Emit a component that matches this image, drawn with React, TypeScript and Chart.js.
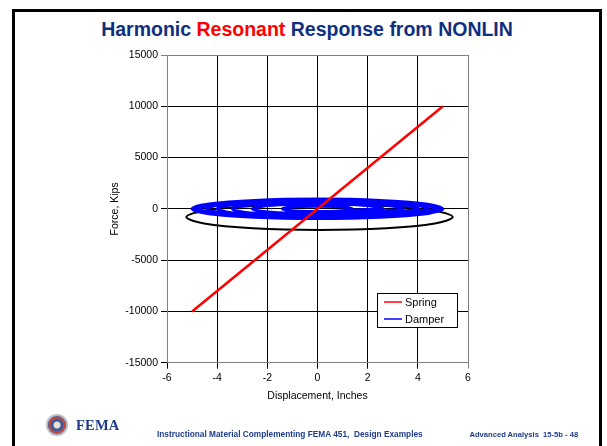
import React, { useEffect, useRef } from "react";
import { Chart, registerables } from "chart.js";

Chart.register(...registerables);

// ---------- data ----------
const titleParts = ["Harmonic ", "Resonant", " Response from NONLIN"];
const xTitle = "Displacement, Inches";
const yTitle = "Force, Kips";
const seriesLabels = ["Spring", "Damper"];
const footerLeft = "Instructional Material Complementing FEMA 451,  Design Examples";
const footerRight = "Advanced Analysis  15-5b - 48";
const logoText = "FEMA";

const xMin = -6;
const xMax = 6;
const xStep = 2;
const yMin = -15000;
const yMax = 15000;
const yStep = 5000;

// Spring force vs displacement
const springDisp = [-5, 5];
const springForce = [-10000, 10000];

// Damper force vs displacement (growing resonant loops)
const damperDisp = [
  1.4, 1.21, 0.7, 0, -0.7, -1.21, -1.4, -1.21, -0.7, 0, 0.7, 1.21,
  2.6, 2.25, 1.3, 0, -1.3, -2.25, -2.6, -2.25, -1.3, 0, 1.3, 2.25,
  3.4, 2.94, 1.7, 0, -1.7, -2.94, -3.4, -2.94, -1.7, 0, 1.7, 2.94,
  4.0, 3.46, 2.0, 0, -2.0, -3.46, -4.0, -3.46, -2.0, 0, 2.0, 3.46,
  4.4, 3.81, 2.2, 0, -2.2, -3.81, -4.4, -3.81, -2.2, 0, 2.2, 3.81,
  4.7, 4.07, 2.35, 0, -2.35, -4.07, -4.7, -4.07, -2.35, 0, 2.35, 4.07,
  4.9, 4.24, 2.45, 0, -2.45, -4.24, -4.9, -4.24, -2.45, 0, 2.45, 4.24,
  5.0, 4.33, 2.5, 0, -2.5, -4.33, -5.0, -4.33, -2.5, 0, 2.5, 4.33, 5.0,
];
const damperForce = [
  0, 130, 225, 260, 225, 130, 0, -130, -225, -260, -225, -130,
  0, 240, 416, 480, 416, 240, 0, -240, -416, -480, -416, -240,
  0, 320, 554, 640, 554, 320, 0, -320, -554, -640, -554, -320,
  0, 380, 658, 760, 658, 380, 0, -380, -658, -760, -658, -380,
  0, 420, 727, 840, 727, 420, 0, -420, -727, -840, -727, -420,
  0, 448, 775, 895, 775, 448, 0, -448, -775, -895, -775, -448,
  0, 465, 805, 930, 805, 465, 0, -465, -805, -930, -805, -465,
  0, 475, 823, 950, 823, 475, 0, -475, -823, -950, -823, -475, 0,
];

// Unlabelled black loop
const loopDisp = [0.08, -2.58, -4.52, -5.23, -4.52, -2.58, 0.08, 2.74, 4.68, 5.39, 4.68, 2.74, 0.08];
const loopForce = [450, 283, -175, -800, -1425, -1883, -2050, -1883, -1425, -800, -175, 283, 450];

// ---------- helpers ----------
const toPoints = (xs: number[], ys: number[]) => xs.map((x, i) => ({ x, y: ys[i] }));

const NAVY = "#10307F";
const FONT = "'Liberation Sans', Arial, sans-serif";

const boxLegend = {
  id: "boxLegend",
  afterDraw(chart: any) {
    const { ctx, chartArea } = chart;
    const w = 80;
    const h = 34;
    const x = Math.round(chartArea.right - 91);
    const y = Math.round(chartArea.bottom - 70);
    ctx.save();
    ctx.fillStyle = "#ffffff";
    ctx.fillRect(x, y, w, h);
    ctx.strokeStyle = "#000000";
    ctx.lineWidth = 1;
    ctx.strokeRect(x + 0.5, y + 0.5, w, h);
    const items = chart.data.datasets.filter((d: any) => !d.hideInLegend);
    items.forEach((d: any, i: number) => {
      const cy = y + 9 + i * 17;
      ctx.strokeStyle = d.borderColor;
      ctx.lineWidth = 1.5;
      ctx.beginPath();
      ctx.moveTo(x + 7, cy);
      ctx.lineTo(x + 25, cy);
      ctx.stroke();
      ctx.fillStyle = "#000";
      ctx.font = `11px ${FONT}`;
      ctx.textBaseline = "middle";
      ctx.textAlign = "left";
      ctx.fillText(d.label, x + 28, cy + 0.5);
    });
    ctx.restore();
  },
};

function FemaChart() {
  const ref = useRef<HTMLCanvasElement | null>(null);
  useEffect(() => {
    if (!ref.current) return;
    const chart = new Chart(ref.current, {
      type: "scatter",
      data: {
        datasets: [
          {
            label: seriesLabels[0],
            data: toPoints(springDisp, springForce),
            showLine: true,
            borderColor: "#FF0000",
            backgroundColor: "#FF0000",
            borderWidth: 2.5,
            pointRadius: 0,
            tension: 0,
          },
          {
            label: seriesLabels[1],
            data: toPoints(damperDisp, damperForce),
            showLine: true,
            borderColor: "#0000FF",
            backgroundColor: "#0000FF",
            borderWidth: 3,
            pointRadius: 0,
            tension: 0.35,
          },
          {
            label: "",
            hideInLegend: true,
            data: toPoints(loopDisp, loopForce),
            showLine: true,
            borderColor: "#000000",
            backgroundColor: "#000000",
            borderWidth: 2,
            pointRadius: 0,
            tension: 0.35,
          } as any,
        ],
      },
      options: {
        responsive: false,
        maintainAspectRatio: false,
        animation: false,
        events: [],
        layout: { padding: { left: 108.7, right: 139, top: 55, bottom: 44 } },
        plugins: {
          legend: { display: false },
          tooltip: { enabled: false },
          title: { display: false },
        },
        scales: {
          x: {
            type: "linear",
            min: xMin,
            max: xMax,
            afterFit: (s: any) => {
              s.height = 39.3;
            },
            ticks: {
              stepSize: xStep,
              color: "#000",
              padding: 3,
              font: { family: FONT, size: 10.5 },
              maxRotation: 0,
              callback: (v: any) => String(v),
            },
            grid: {
              color: (c: any) => (c.tick && c.tick.value === xMax ? "#808080" : "#000000"),
              lineWidth: 1,
              tickLength: 6,
            },
            border: { color: "#808080", width: 1 },
            title: {
              display: true,
              text: xTitle,
              color: "#000",
              padding: 0,
              font: { family: FONT, size: 10.5 },
            },
          },
          y: {
            type: "linear",
            min: yMin,
            max: yMax,
            afterFit: (s: any) => {
              s.width = 58.3;
            },
            ticks: {
              stepSize: yStep,
              color: "#000",
              padding: 3,
              font: { family: FONT, size: 10.5 },
              callback: (v: any) => String(v),
            },
            grid: {
              color: (c: any) => (c.tick && c.tick.value === yMax ? "#808080" : "#000000"),
              lineWidth: 1,
              tickLength: 6,
            },
            border: { color: "#808080", width: 1 },
            title: {
              display: true,
              text: yTitle,
              color: "#000",
              padding: 0,
              font: { family: FONT, size: 10.5 },
            },
          },
        },
      } as any,
      plugins: [boxLegend],
    });
    return () => chart.destroy();
  }, []);
  return (
    <canvas
      ref={ref}
      width={607}
      height={446}
      style={{ position: "absolute", left: 0, top: 0, width: 607, height: 446 }}
    />
  );
}

export default function App() {
  return (
    <div
      style={{
        position: "absolute",
        left: 0,
        top: 0,
        width: 607,
        height: 446,
        overflow: "hidden",
        background: "#ffffff",
        fontFamily: FONT,
      }}
    >
      {/* slide frame */}
      <div
        style={{
          position: "absolute",
          left: 12,
          top: 9,
          width: 590,
          height: 437,
          boxSizing: "border-box",
          borderTop: "3px solid #000",
          borderLeft: "3px solid #000",
          borderRight: "3px solid #000",
        }}
      />
      {/* title */}
      <div
        style={{
          position: "absolute",
          left: 15,
          width: 584,
          top: 19.5,
          textAlign: "center",
          fontWeight: "bold",
          fontSize: 19.5,
          lineHeight: "19.5px",
          color: NAVY,
          whiteSpace: "pre",
        }}
      >
        {titleParts[0]}
        <span style={{ color: "#FF0000" }}>{titleParts[1]}</span>
        {titleParts[2]}
      </div>
      <FemaChart />
      {/* footer logo */}
      <div
        style={{
          position: "absolute",
          left: 46,
          top: 414,
          width: 22,
          height: 22,
          borderRadius: "50%",
          boxSizing: "border-box",
          border: "2px solid #B7BCC9",
          background: "radial-gradient(circle at 50% 50%, #E8E2D0 0 3px, #3E5A9A 4px 6px, #C8483E 7px 8px, #2C4A8C 9px)",
        }}
      />
      <div
        style={{
          position: "absolute",
          left: 76,
          top: 418,
          fontFamily: "'Liberation Serif', 'Times New Roman', serif",
          fontWeight: "bold",
          fontSize: 14.5,
          lineHeight: "14.5px",
          color: "#1F3A8A",
          letterSpacing: 0.2,
        }}
      >
        {logoText}
      </div>
      <div
        style={{
          position: "absolute",
          left: 157,
          top: 429.5,
          fontWeight: "bold",
          fontSize: 8.3,
          lineHeight: "8.3px",
          color: "#1E3C8C",
          whiteSpace: "pre",
        }}
      >
        {footerLeft}
      </div>
      <div
        style={{
          position: "absolute",
          left: 469.5,
          top: 431,
          fontWeight: "bold",
          fontSize: 7.6,
          lineHeight: "7.6px",
          color: "#1E3C8C",
          whiteSpace: "pre",
        }}
      >
        {footerRight}
      </div>
    </div>
  );
}
